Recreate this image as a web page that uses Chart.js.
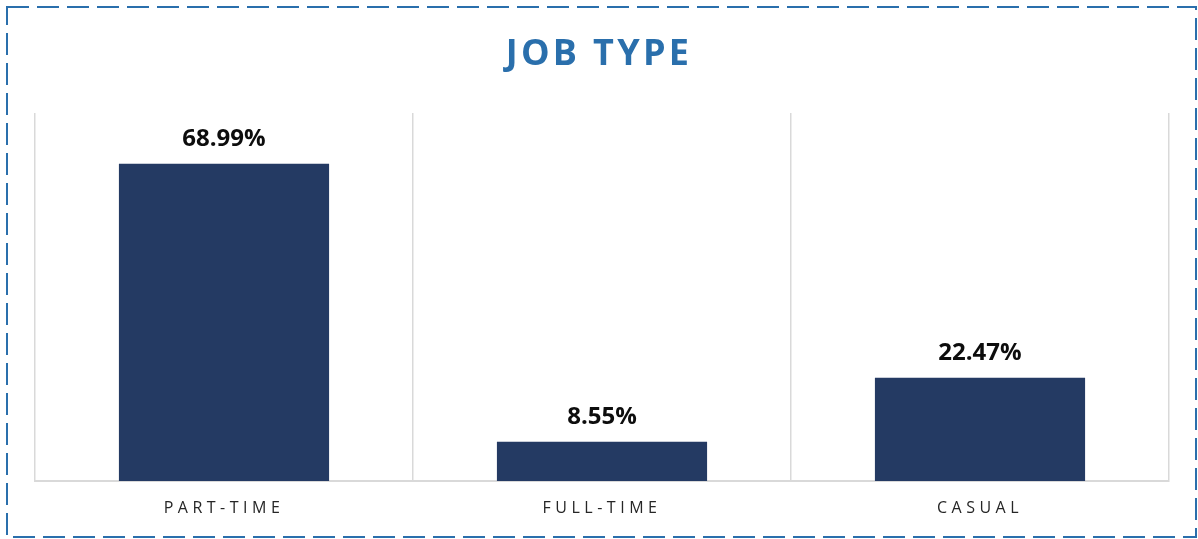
<!DOCTYPE html>
<html lang="en">
<head>
    <meta charset="UTF-8">
    <title>Job Type</title>
    <script src="https://cdn.jsdelivr.net/npm/chart.js@4.4.1/dist/chart.umd.min.js"></script>
    <style>
        body {
            margin: 0;
            background: white;
            font-family: 'Open Sans', sans-serif;
        }
        .wrap {
            position: relative;
            width: 1198px;
            height: 539px;
        }
        .title {
            position: absolute;
            left: 0;
            width: 1198px;
            top: 27px;
            text-align: center;
            font-size: 36px;
            font-weight: bold;
            letter-spacing: 3.3px;
            color: #2a6fac;
        }
    </style>
</head>
<body>
    <div class="wrap">
        <canvas id="jobChart" width="1198" height="539"></canvas>
        <div class="title">JOB TYPE</div>
    </div>

    <script>
        // data
        const categories = ['PART-TIME', 'FULL-TIME', 'CASUAL'];
        const shares = [68.99, 8.55, 22.47];
        const valueLabels = ['68.99%', '8.55%', '22.47%'];

        // dashed frame round the whole picture
        const framePlugin = {
            id: 'frame',
            beforeDraw(chart) {
                const ctx = chart.ctx;
                ctx.save();
                ctx.strokeStyle = '#2a6fac';
                ctx.lineWidth = 2;
                ctx.setLineDash([22, 8]);
                ctx.strokeRect(7, 7, 1189, 530);
                ctx.restore();
                // spaced out axis labels
                ctx.letterSpacing = '4.5px';
            },
            beforeDatasetsDraw(chart) {
                chart.ctx.letterSpacing = '0px';
            }
        };

        // percent labels above bars
        const valuePlugin = {
            id: 'values',
            afterDatasetsDraw(chart) {
                const ctx = chart.ctx;
                const meta = chart.getDatasetMeta(0);
                ctx.save();
                ctx.font = 'bold 24px "Open Sans"';
                ctx.fillStyle = '#0d0d0d';
                ctx.textAlign = 'center';
                ctx.textBaseline = 'alphabetic';
                meta.data.forEach((bar, i) => {
                    ctx.fillText(valueLabels[i], bar.x, bar.y - 18);
                });
                ctx.restore();
            }
        };

        new Chart(document.getElementById('jobChart'), {
            type: 'bar',
            data: {
                labels: categories,
                datasets: [{
                    data: shares,
                    backgroundColor: '#243a63',
                    barPercentage: 0.556,
                    categoryPercentage: 1
                }]
            },
            options: {
                responsive: false,
                animation: false,
                layout: {
                    padding: { left: 35, right: 29, top: 113, bottom: 0 }
                },
                plugins: {
                    legend: { display: false },
                    tooltip: { enabled: false }
                },
                scales: {
                    y: {
                        display: false,
                        min: 0,
                        max: 80
                    },
                    x: {
                        afterFit(scale) { scale.height = 58; },
                        grid: {
                            color: '#d9d9d9',
                            lineWidth: 1.5,
                            drawTicks: false
                        },
                        border: { color: '#d9d9d9', width: 2 },
                        ticks: {
                            color: '#262626',
                            padding: 18,
                            font: { family: 'Open Sans', size: 16 }
                        }
                    }
                }
            },
            plugins: [framePlugin, valuePlugin]
        });
    </script>
</body>
</html>
